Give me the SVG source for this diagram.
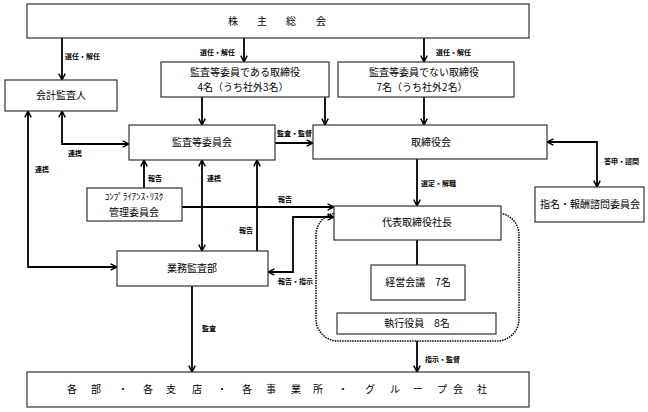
<svg xmlns="http://www.w3.org/2000/svg" width="648" height="412" viewBox="0 0 648 412">
<style>
.box{fill:#fff;stroke:#333;stroke-width:1.2}
.t{font-family:"Noto Sans CJK JP","Noto Sans",sans-serif;font-size:10px;fill:#000;text-anchor:middle}
.lb{font-family:"Noto Sans CJK JP","Noto Sans",sans-serif;font-size:7px;fill:#000;font-weight:bold}
.c{fill:none;stroke:#000;stroke-width:1.8}
.a{marker-end:url(#ah)}
.b{marker-start:url(#ah);marker-end:url(#ah)}
</style>
<defs>
<marker id="ah" viewBox="0 0 10 10" refX="9" refY="5" markerWidth="8" markerHeight="8" markerUnits="userSpaceOnUse" orient="auto-start-reverse">
<path d="M1,1 L9,5 L1,9" fill="none" stroke="#000" stroke-width="1.8"/>
</marker>
</defs>
<g id="frame">
<rect x="316" y="213" width="203" height="128" rx="22" fill="none" stroke="#000" stroke-width="1.5" stroke-dasharray="1.5 1"/>
</g>
<g id="connectors">
<path class="c a" d="M62,38 V80"/>
<path class="c a" d="M244,38 V62"/>
<path class="c a" d="M424,38 V62"/>
<path class="c a" d="M202,97 V125"/>
<path class="c a" d="M325,97 V125"/>
<path class="c a" d="M424,97 V125"/>
<path class="c a" d="M275,143 H313"/>
<path class="c b" d="M62,111 V144 H129"/>
<path class="c b" d="M28,111 V267 H117"/>
<path class="c a" d="M144,188 V160"/>
<path class="c b" d="M202,160 V251"/>
<path class="c a" d="M257,251 V160"/>
<path class="c a" d="M182,207 H334"/>
<path class="c b" d="M334,217 H293 V272 H268"/>
<path class="c a" d="M417,159 V206"/>
<path class="c" d="M417,240 V265"/>
<path class="c a" d="M417,341 V372"/>
<path class="c a" d="M192,286 V372"/>
<path class="c b" d="M547,142 H597 V187"/>
</g>
<g id="labels">
<text class="lb" x="65" y="59">選任・解任</text>
<text class="lb" x="200" y="55">選任・解任</text>
<text class="lb" x="436" y="55">選任・解任</text>
<text class="lb" x="277" y="136">監査・監督</text>
<text class="lb" x="68" y="156">連携</text>
<text class="lb" x="35" y="172">連携</text>
<text class="lb" x="148" y="181">報告</text>
<text class="lb" x="207" y="181">連携</text>
<text class="lb" x="278" y="202">報告</text>
<text class="lb" x="239" y="233">報告</text>
<text class="lb" x="278" y="284">報告・指示</text>
<text class="lb" x="202" y="331">監査</text>
<text class="lb" x="421" y="186">選定・解職</text>
<text class="lb" x="604" y="164">答申・諮問</text>
<text class="lb" x="425" y="362">指示・監督</text>
</g>
<g id="shareholders">
<rect class="box" x="27" y="4" width="502" height="34"/>
<text class="t" x="233" y="25">株</text><text class="t" x="262" y="25">主</text><text class="t" x="291" y="25">総</text><text class="t" x="321" y="25">会</text>
</g>
<g id="auditor">
<rect class="box" x="5" y="80" width="112" height="31"/>
<text class="t" x="61" y="99">会計監査人</text>
</g>
<g id="audit-directors">
<rect class="box" x="161" y="62" width="168" height="35"/>
<text class="t" x="245" y="76">監査等委員である取締役</text>
<text class="t" x="243" y="91">4名（うち社外3名）</text>
</g>
<g id="other-directors">
<rect class="box" x="338" y="62" width="176" height="35"/>
<text class="t" x="424" y="76">監査等委員でない取締役</text>
<text class="t" x="422" y="91">7名（うち社外2名）</text>
</g>
<g id="audit-committee">
<rect class="box" x="129" y="125" width="146" height="35"/>
<text class="t" x="202" y="146">監査等委員会</text>
</g>
<g id="board">
<rect class="box" x="313" y="125" width="234" height="34"/>
<text class="t" x="431" y="146">取締役会</text>
</g>
<g id="nomination">
<rect class="box" x="535" y="187" width="109" height="35"/>
<text class="t" x="590" y="208">指名・報酬諮問委員会</text>
</g>
<g id="compliance">
<rect class="box" x="87" y="188" width="95" height="33"/>
<text class="t" x="134" y="200" style="font-size:9px">ｺﾝﾌﾟﾗｲｱﾝｽ･ﾘｽｸ</text>
<text class="t" x="134" y="216">管理委員会</text>
</g>
<g id="president">
<rect class="box" x="334" y="206" width="167" height="34"/>
<text class="t" x="417" y="226">代表取締役社長</text>
</g>
<g id="internal-audit">
<rect class="box" x="117" y="251" width="151" height="35"/>
<text class="t" x="192" y="272">業務監査部</text>
</g>
<g id="management-meeting">
<rect class="box" x="371" y="265" width="94" height="35"/>
<text class="t" x="418" y="286">経営会議　7名</text>
</g>
<g id="officers">
<rect class="box" x="337" y="313" width="159" height="21"/>
<text class="t" x="417" y="327">執行役員　8名</text>
</g>
<g id="departments">
<rect class="box" x="27" y="372" width="502" height="35"/>
<text class="t" x="72 96 123 148 171 197 222 247 271 296 318 343 370 395 418 442 458 482" y="393">各部・各支店・各事業所・グループ会社</text>
</g>
</svg>
